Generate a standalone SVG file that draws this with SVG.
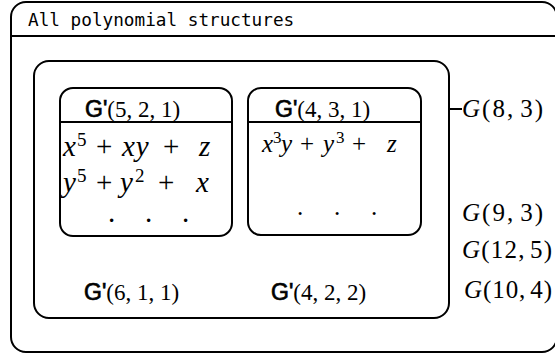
<svg xmlns="http://www.w3.org/2000/svg" width="555" height="356" viewBox="0 0 555 356">
<style>
.box{fill:none;stroke:#000;stroke-width:2}
.ln{stroke:#000;stroke-width:2}
.mono{font-family:"DejaVu Sans Mono","Liberation Mono",monospace;font-size:17.7px;fill:#000}
.m{font-family:"Liberation Serif","DejaVu Serif",serif;fill:#000}
.i{font-style:italic}
.g{font-family:"Liberation Sans","DejaVu Sans",sans-serif;stroke:#000;stroke-width:0.7}
.sup{font-size:19px}
</style>
<rect width="555" height="356" fill="#fff"/>
<g id="all-structures">
<rect class="box" x="11" y="2" width="546" height="350" rx="15"/>
<line class="ln" x1="11" y1="36" x2="556" y2="36"/>
<text class="mono" x="28" y="26">All polynomial structures</text>
</g>
<g id="G-8-3">
<rect class="box" x="34" y="61" width="415" height="257" rx="15"/>
<text class="m" x="84" y="300" font-size="23"><tspan class="g">G'</tspan>(6, 1, 1)</text>
<text class="m" x="271" y="300" font-size="23"><tspan class="g">G'</tspan>(4, 2, 2)</text>
</g>
<g id="G-5-2-1">
<rect class="box" x="60" y="88" width="172" height="148" rx="13"/>
<line class="ln" x1="60" y1="122" x2="232" y2="122"/>
<text class="m" x="85" y="117" font-size="23"><tspan class="g">G'</tspan>(5, 2, 1)</text>
<g class="m" font-size="29">
<text class="i" x="63" y="156">x</text>
<text class="sup" x="77" y="146">5</text>
<text x="96" y="156">+</text>
<text class="i" x="122" y="156" letter-spacing="1">xy</text>
<text x="163" y="156">+</text>
<text class="i" x="199" y="156">z</text>
<text class="i" x="63" y="192">y</text>
<text class="sup" x="77" y="182">5</text>
<text x="96" y="192">+</text>
<text class="i" x="120" y="192">y</text>
<text class="sup" x="135" y="182">2</text>
<text x="158" y="192">+</text>
<text class="i" x="196" y="192">x</text>
<text y="222"><tspan x="108">.</tspan><tspan x="145">.</tspan><tspan x="182">.</tspan></text>
</g>
</g>
<g id="G-4-3-1">
<rect class="box" x="248" y="88" width="173" height="147" rx="13"/>
<line class="ln" x1="248" y1="122" x2="421" y2="122"/>
<text class="m" x="275" y="117" font-size="23"><tspan class="g">G'</tspan>(4, 3, 1)</text>
<g class="m" font-size="25">
<text class="i" x="262" y="152">x</text>
<text font-size="17" x="273" y="143">3</text>
<text class="i" x="281" y="152">y</text>
<text x="300" y="152">+</text>
<text class="i" x="323" y="152">y</text>
<text font-size="17" x="336" y="143">3</text>
<text x="352" y="152">+</text>
<text class="i" x="387" y="152">z</text>
<text y="215"><tspan x="297">.</tspan><tspan x="334">.</tspan><tspan x="371">.</tspan></text>
</g>
</g>
<g id="connectors">
<line class="ln" x1="449" y1="109" x2="462" y2="109"/>
</g>
<g id="labels" class="m" font-size="25">
<text x="462" y="117" textLength="81" lengthAdjust="spacing"><tspan class="i">G</tspan>(8,<tspan font-size="12"> </tspan>3)</text>
<text x="462" y="221" textLength="81" lengthAdjust="spacing"><tspan class="i">G</tspan>(9,<tspan font-size="12"> </tspan>3)</text>
<text x="462" y="258" textLength="90" lengthAdjust="spacing"><tspan class="i">G</tspan>(12,<tspan font-size="12"> </tspan>5)</text>
<text x="464" y="298" textLength="88" lengthAdjust="spacing"><tspan class="i">G</tspan>(10,<tspan font-size="12"> </tspan>4)</text>
</g>
</svg>
